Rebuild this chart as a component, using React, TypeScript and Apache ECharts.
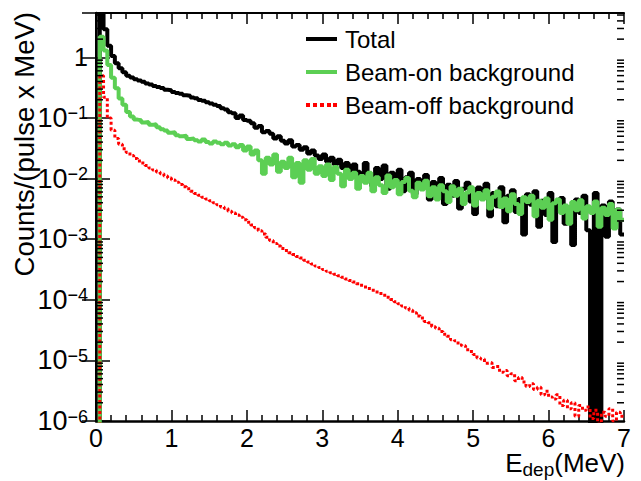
import React, { useEffect, useRef } from 'react';
import * as echarts from 'echarts';

const FONT = '"Liberation Sans", Arial, Helvetica, sans-serif';

// Histogram binning: 140 bins of 0.05 MeV from 0 to 7 MeV (left edges)
const BIN_WIDTH = 0.05;
const X_MIN = 0;
const X_MAX = 7;
const Y_MIN = 1e-6;
const Y_MAX = 5.4;
const EMPTY_FLOOR = 1e-9; // empty bins drawn below the axis floor (clipped)

const seriesNames = ['Total', 'Beam-on background', 'Beam-off background'];
const seriesColors = ['#000000', '#5ccf54', '#ff0000'];

const total = [
  0, 5.2, 2.9, 1.55, 1.05, 0.8, 0.66, 0.57, 0.5, 0.465,
  0.435, 0.415, 0.395, 0.37, 0.358, 0.338, 0.325, 0.312, 0.292, 0.287,
  0.268, 0.258, 0.25, 0.238, 0.232, 0.218, 0.212, 0.199, 0.192, 0.181,
  0.174, 0.165, 0.158, 0.145, 0.138, 0.124, 0.12, 0.1, 0.11, 0.093,
  0.09, 0.082, 0.069, 0.074, 0.058, 0.061, 0.055, 0.046, 0.05, 0.042,
  0.038, 0.043, 0.034, 0.036, 0.03, 0.033, 0.026, 0.029, 0.024, 0.021,
  0.025, 0.019, 0.022, 0.017, 0.0205, 0.015, 0.018, 0.0125, 0.017, 0.013,
  0.0095, 0.018, 0.012, 0.0075, 0.015, 0.0098, 0.0165, 0.0068, 0.0125, 0.0088,
  0.014, 0.0062, 0.0105, 0.0125, 0.0055, 0.0098, 0.0072, 0.0115, 0.0045, 0.0088,
  0.0065, 0.0102, 0.0038, 0.0079, 0.0052, 0.0091, 0.0032, 0.0068, 0.0085, 0.0042,
  0.0026, 0.0071, 0.0049, 0.0082, 0.0024, 0.0058, 0.0035, 0.0072, 0.0019, 0.0052,
  0.0064, 0.0028, 0.0046, 0.0012, 0.0055, 0.0037, 0.0062, 0.0016, 0.0043, 0.0025,
  0.0058, 0.0009, 0.0039, 0.0048, 0.0018, 0.0033, 0.0008, 0.0045, 0.0027, 0.0052,
  0.0014, 0, 0.0058, 0, 0.0036, 0.0011, 0.0042, 0.0024, 0.0031, 0.0012,
];

const beamOn = [
  0, 2.2, 1.3, 0.75, 0.46, 0.31, 0.21, 0.165, 0.125, 0.106,
  0.094, 0.092, 0.084, 0.086, 0.077, 0.079, 0.07, 0.065, 0.062, 0.057,
  0.058, 0.052, 0.05, 0.051, 0.045, 0.046, 0.043, 0.041, 0.044, 0.04,
  0.038, 0.041, 0.039, 0.037, 0.039, 0.035, 0.037, 0.033, 0.036, 0.029,
  0.034, 0.025, 0.029, 0.02, 0.012, 0.022, 0.017, 0.025, 0.013, 0.019,
  0.015, 0.022, 0.0105, 0.018, 0.0085, 0.02, 0.014, 0.021, 0.012, 0.016,
  0.011, 0.017, 0.0095, 0.0155, 0.012, 0.0075, 0.014, 0.0098, 0.0125, 0.0068,
  0.011, 0.0085, 0.0125, 0.0062, 0.0105, 0.0078, 0.0058, 0.0112, 0.0072, 0.0095,
  0.0055, 0.0088, 0.0102, 0.0063, 0.0049, 0.0085, 0.0066, 0.0092, 0.0051, 0.0072,
  0.0045, 0.0078, 0.0062, 0.0041, 0.0075, 0.0052, 0.0068, 0.0038, 0.0059, 0.0072,
  0.0036, 0.0058, 0.0045, 0.0064, 0.0032, 0.005, 0.0061, 0.0034, 0.0047, 0.0029,
  0.0055, 0.0038, 0.0026, 0.0049, 0.0041, 0.0052, 0.0024, 0.0043, 0.0033, 0.0047,
  0.0021, 0.0039, 0.0045, 0.0027, 0.0036, 0.0018, 0.0041, 0.003, 0.0044, 0.0022,
  0.0035, 0.0027, 0.0042, 0.0016, 0.0033, 0.0025, 0.0038, 0.0015, 0.0031, 0.0021,
];

const beamOff = [
  0, 0.5, 0.22, 0.1, 0.063, 0.046, 0.037, 0.031, 0.027, 0.024,
  0.0215, 0.0195, 0.018, 0.0165, 0.015, 0.0138, 0.0128, 0.012, 0.011, 0.0102,
  0.0095, 0.0087, 0.008, 0.0073, 0.0068, 0.0062, 0.0057, 0.0053, 0.0049, 0.0046,
  0.0043, 0.004, 0.0037, 0.0034, 0.0032, 0.0029, 0.0027, 0.0025, 0.0023, 0.0021,
  0.0019, 0.00172, 0.00155, 0.00138, 0.00122, 0.00108, 0.00095, 0.00085, 0.00077, 0.0007,
  6.5e-4, 6.0e-4, 5.6e-4, 5.2e-4, 4.9e-4, 4.5e-4, 4.2e-4, 3.9e-4, 3.6e-4, 3.4e-4,
  3.15e-4, 2.95e-4, 2.8e-4, 2.65e-4, 2.5e-4, 2.35e-4, 2.2e-4, 2.08e-4, 1.96e-4, 1.84e-4,
  1.73e-4, 1.63e-4, 1.53e-4, 1.44e-4, 1.35e-4, 1.27e-4, 1.19e-4, 1.1e-4, 1.01e-4, 9.3e-5,
  8.6e-5, 7.9e-5, 7.3e-5, 6.7e-5, 6.1e-5, 5.4e-5, 5.0e-5, 4.4e-5, 4.2e-5, 3.6e-5,
  3.4e-5, 3.0e-5, 2.7e-5, 2.5e-5, 2.2e-5, 2.1e-5, 1.8e-5, 1.75e-5, 1.5e-5, 1.4e-5,
  1.25e-5, 1.1e-5, 1.05e-5, 9.0e-6, 9.2e-6, 7.6e-6, 7.9e-6, 6.4e-6, 6.8e-6, 5.6e-6,
  6.0e-6, 4.6e-6, 5.2e-6, 4.4e-6, 3.7e-6, 4.1e-6, 3.3e-6, 3.6e-6, 2.7e-6, 3.1e-6,
  2.5e-6, 2.3e-6, 2.7e-6, 1.8e-6, 2.2e-6, 1.6e-6, 2.0e-6, 1.2e-6, 1.8e-6, 1.5e-6,
  1.7e-6, 1.1e-6, 1.5e-6, 0.9e-6, 1.4e-6, 1.2e-6, 1.6e-6, 1.0e-6, 1.4e-6, 1.2e-6,
];

// log-axis minor ticks: 2..9 x 10^n
const minorMultipliers = [2, 3, 4, 5, 6, 7, 8, 9];
const decadeExponents = [-6, -5, -4, -3, -2, -1, 0];

// legend sample shapes (solid bars and a dotted bar)
const ICON_SOLID = 'path://M0,0H31V4H0Z';
const ICON_DOTTED = 'path://M0,0h4v4h-4z M7,0h4v4h-4z M14,0h4v4h-4z M21,0h4v4h-4z M27,0h4v4h-4z';

function toSteps(values: number[]) {
  const pts: number[][] = values.map((v, i) => [
    +(X_MIN + i * BIN_WIDTH).toFixed(4),
    v > 0 ? v : EMPTY_FLOOR,
  ]);
  const last = values[values.length - 1];
  pts.push([X_MAX, last > 0 ? last : EMPTY_FLOOR]);
  return pts;
}

export default function App() {
  const ref = useRef<HTMLDivElement>(null);

  useEffect(() => {
    if (!ref.current) return;
    const chart = echarts.init(ref.current, null, { renderer: 'svg' });

    const minorTickValues: number[][] = [];
    decadeExponents.forEach((e) => {
      minorMultipliers.forEach((m) => {
        const v = m * Math.pow(10, e);
        if (v > Y_MIN && v < Y_MAX) minorTickValues.push([X_MIN, v]);
      });
    });

    const yLabelFormatter = (v: number) => {
      const e = Math.round(Math.log10(v));
      if (e === 0) return '{one|1}';
      const s = (e < 0 ? '\u2212' : '') + Math.abs(e);
      return '{b|10}{s|' + s + '}';
    };

    const tickStyle = { color: '#000', width: 1.5 };

    const option: any = {
      animation: false,
      backgroundColor: '#fff',
      textStyle: { fontFamily: FONT },
      grid: { left: 96, right: 17, top: 13, bottom: 60, containLabel: false },
      legend: {
        data: [
          { name: seriesNames[0], icon: ICON_SOLID },
          { name: seriesNames[1], icon: ICON_SOLID },
          { name: seriesNames[2], icon: ICON_DOTTED },
        ],
        orient: 'vertical',
        left: 306,
        top: 27,
        padding: 0,
        itemWidth: 31,
        itemHeight: 4,
        itemGap: 9,
        symbolKeepAspect: false,
        itemStyle: { borderWidth: 0 },
        textStyle: { fontSize: 24, fontFamily: FONT, color: '#000', lineHeight: 24, padding: [0, 0, 0, 3] },
        selectedMode: false,
      },
      xAxis: [
        {
          type: 'value',
          min: X_MIN,
          max: X_MAX,
          interval: 1,
          position: 'bottom',
          axisLine: { lineStyle: { color: '#000', width: 2.5 } },
          axisTick: { inside: true, length: 11, lineStyle: tickStyle },
          minorTick: { show: true, splitNumber: 5, length: 6, lineStyle: tickStyle },
          splitLine: { show: false },
          minorSplitLine: { show: false },
          axisLabel: { fontSize: 25, fontFamily: FONT, color: '#000', margin: 4 },
        },
        {
          type: 'value',
          min: X_MIN,
          max: X_MAX,
          interval: 1,
          position: 'top',
          axisLine: { lineStyle: { color: '#000', width: 2 } },
          axisTick: { inside: true, length: 11, lineStyle: tickStyle },
          minorTick: { show: true, splitNumber: 5, length: 6, lineStyle: tickStyle },
          splitLine: { show: false },
          axisLabel: { show: false },
        },
      ],
      yAxis: [
        {
          type: 'log',
          logBase: 10,
          min: Y_MIN,
          max: Y_MAX,
          position: 'left',
          axisLine: { lineStyle: { color: '#000', width: 2.5 } },
          axisTick: { inside: true, length: 14, lineStyle: tickStyle },
          splitLine: { show: false },
          axisLabel: {
            margin: 8,
            showMaxLabel: false,
            color: '#000',
            formatter: yLabelFormatter,
            rich: {
              one: { fontSize: 25, fontFamily: FONT, color: '#000' },
              b: { fontSize: 27, lineHeight: 27, padding: [3, 0, 0, 0], verticalAlign: 'bottom', fontFamily: FONT, color: '#000' },
              s: { fontSize: 18, lineHeight: 18, verticalAlign: 'top', fontFamily: FONT, color: '#000' },
            },
          },
        },
        {
          type: 'log',
          logBase: 10,
          min: Y_MIN,
          max: Y_MAX,
          position: 'right',
          axisLine: { lineStyle: { color: '#000', width: 2 } },
          axisTick: { inside: true, length: 14, lineStyle: tickStyle },
          splitLine: { show: false },
          axisLabel: { show: false },
        },
      ],
      graphic: [
        {
          type: 'text',
          x: 24,
          y: 12,
          rotation: Math.PI / 2,
          style: {
            text: 'Counts/(pulse x MeV)',
            align: 'right',
            verticalAlign: 'middle',
            fontSize: 27.5,
            fontFamily: FONT,
            fill: '#000',
          },
        },
        {
          type: 'text',
          x: 625,
          y: 450,
          style: {
            text: '{a|E}{s|dep}{a|(MeV)}',
            align: 'right',
            verticalAlign: 'top',
            rich: {
              a: { fontSize: 26, lineHeight: 26, verticalAlign: 'top', fontFamily: FONT, fill: '#000' },
              s: { fontSize: 19, lineHeight: 19, padding: [10, 0, 0, 0], verticalAlign: 'top', fontFamily: FONT, fill: '#000' },
            },
          },
        },
      ],
      series: [
        {
          name: seriesNames[0],
          type: 'line',
          step: 'end',
          data: toSteps(total),
          symbol: 'none',
          clip: true,
          lineStyle: { color: seriesColors[0], width: 4 },
          itemStyle: { color: seriesColors[0] },
          z: 2,
        },
        {
          name: seriesNames[1],
          type: 'line',
          step: 'end',
          data: toSteps(beamOn),
          symbol: 'none',
          clip: true,
          lineStyle: { color: seriesColors[1], width: 4 },
          itemStyle: { color: seriesColors[1] },
          z: 3,
        },
        {
          name: seriesNames[2],
          type: 'line',
          step: 'end',
          data: toSteps(beamOff),
          symbol: 'none',
          clip: true,
          lineStyle: { color: seriesColors[2], width: 3, type: [3, 2.5] },
          itemStyle: { color: seriesColors[2] },
          z: 4,
        },
        {
          type: 'custom',
          silent: true,
          z: 5,
          data: minorTickValues,
          renderItem: (params: any, api: any) => {
            const v = api.value(1);
            const l = api.coord([X_MIN, v]);
            const r = api.coord([X_MAX, v]);
            return {
              type: 'group',
              children: [
                { type: 'line', shape: { x1: l[0], y1: l[1], x2: l[0] + 7, y2: l[1] }, style: { stroke: '#000', lineWidth: 1.5 } },
                { type: 'line', shape: { x1: r[0] - 7, y1: r[1], x2: r[0], y2: r[1] }, style: { stroke: '#000', lineWidth: 1.5 } },
              ],
            };
          },
        },
      ],
    };

    chart.setOption(option);
    return () => chart.dispose();
  }, []);

  return (
    <div
      ref={ref}
      style={{ position: 'fixed', left: 0, top: 0, width: 641, height: 481, background: '#fff' }}
    />
  );
}
